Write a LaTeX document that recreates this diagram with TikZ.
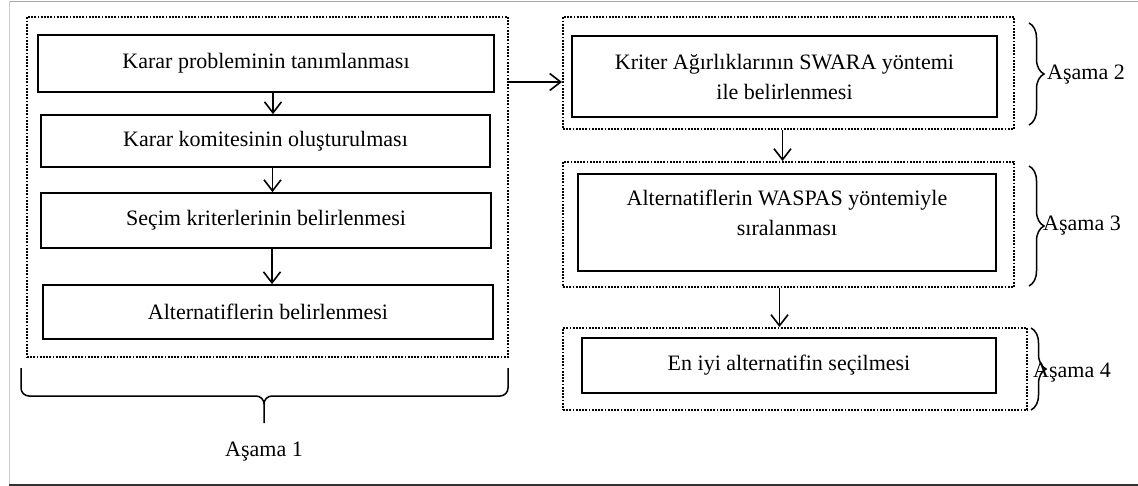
\documentclass[tikz,border=0pt]{standalone}
\usepackage{fontspec}
\setmainfont{Liberation Serif}
\usetikzlibrary{arrows.meta,decorations.pathreplacing}

\tikzset{
	stepbox/.style={draw, line width=1.7pt, inner sep=0pt, align=center},
	stagebox/.style={draw, line width=2pt, dash pattern=on 1.8pt off 1.4pt, inner sep=0pt},
	flow/.style={line width=1.6pt, -{Straight Barb[length=11pt,width=17pt,line width=1.6pt]}},
	curly/.style={line width=1.5pt, decorate, decoration={brace, amplitude=15pt, aspect=0.5}},
	stagelabel/.style={inner sep=0pt}
}

\begin{document}
\begin{tikzpicture}[x=1pt, y=-1pt, every node/.style={font=\fontsize{22}{30}\selectfont}]
	\useasboundingbox (0,0) rectangle (1138,486);
	\draw[gray!70, line width=1.5pt] (9.5,1.5) -- (1138,1.5);
	\draw[gray!40, line width=1.5pt] (9.5,1.5) -- (9.5,484);
	\draw[black!80, line width=2pt] (9,484.5) -- (1138,484.5);

	\node[stagebox, minimum width=481, minimum height=340] (a1) at (267.5,187) {};
	\node[stepbox, minimum width=456, minimum height=57] (k1) at (266,63.5) {Karar probleminin tanımlanması};
	\node[stepbox, minimum width=449, minimum height=52] (k2) at (265.5,141) {Karar komitesinin oluşturulması};
	\node[stepbox, minimum width=450, minimum height=55] (k3) at (266,220.5) {Seçim kriterlerinin belirlenmesi};
	\node[stepbox, minimum width=450, minimum height=54] (k4) at (268,312) {Alternatiflerin belirlenmesi};

	\node[stagebox, minimum width=451, minimum height=112] (a2) at (788.5,73) {};
	\node[stepbox, minimum width=425, minimum height=81] (b1) at (784.5,76.5) {Kriter Ağırlıklarının SWARA yöntemi\\ile belirlenmesi};
	\node[stagebox, minimum width=451, minimum height=125] (a3) at (788.5,224.5) {};
	\node[stepbox, minimum width=418, minimum height=97, text depth=20pt] (b2) at (787,222.5) {Alternatiflerin WASPAS yöntemiyle\\sıralanması};
	\node[stagebox, minimum width=464, minimum height=82] (a4) at (795,369) {};
	\node[stepbox, minimum width=414, minimum height=55] (b3) at (789,365.5) {En iyi alternatifin seçilmesi};

	\draw[flow] ([xshift=7pt]k1.south) -- ([xshift=7pt]k1.south |- k2.north);
	\draw[flow] ([xshift=7pt]k2.south) -- ([xshift=7pt]k2.south |- k3.north);
	\draw[flow] ([xshift=6pt]k3.south) -- ([xshift=6pt]k3.south |- k4.north);
	\draw[flow] ([yshift=-9pt]a2.west -| a1.east) -- ([yshift=-9pt]a2.west);
	\draw[flow] ([xshift=-6pt]a2.south) -- ([xshift=-6pt]a2.south |- a3.north);
	\draw[flow] ([xshift=-9pt]a3.south) -- ([xshift=-9pt]a3.south |- a4.north);

	\coordinate (c1) at (21,368);
	\coordinate (c2) at (508,368);
	\coordinate (m1) at (264,396);
	\draw[line width=1.5pt] (c1) -- ++(0,20) to[out=-90,in=180] ++(8,8) -- ([xshift=-8pt]m1) to[out=0,in=90] ([yshift=-8pt]m1) -- ++(0,19);
	\draw[line width=1.5pt] (c2) -- ++(0,20) to[out=-90,in=0] ++(-8,8) -- ([xshift=8pt]m1) to[out=180,in=90] ([yshift=-8pt]m1);
	\node[stagelabel] (s1) at (264,452) {Aşama 1};

	\draw[curly] (1029,23) -- (1029,125);
	\node[stagelabel, anchor=west] (s2) at (1047,75) {Aşama 2};
	\draw[curly] (1029,166) -- (1029,286);
	\node[stagelabel, anchor=west] (s3) at (1043,226) {Aşama 3};
	\draw[curly] (1031,328) -- (1031,410);
	\node[stagelabel, anchor=west] (s4) at (1033,373) {Aşama 4};
\end{tikzpicture}
\end{document}
